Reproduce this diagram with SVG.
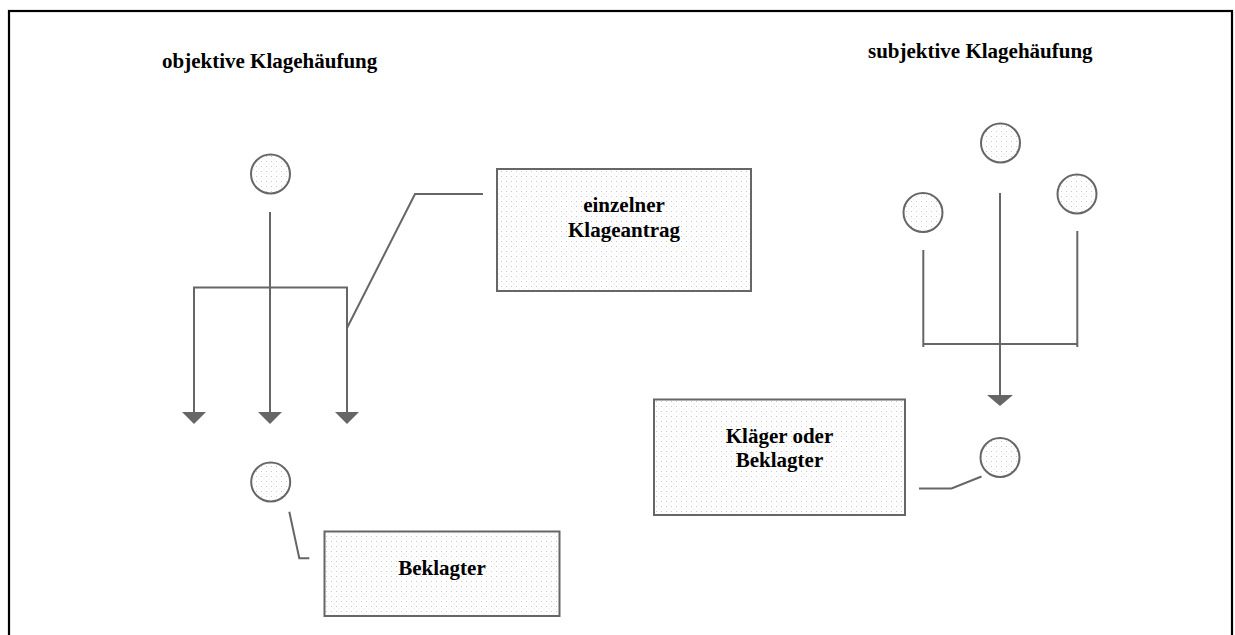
<svg xmlns="http://www.w3.org/2000/svg" width="1235" height="635" viewBox="0 0 1235 635">
<defs>
<pattern id="dots" width="5" height="5" patternUnits="userSpaceOnUse">
<rect width="5" height="5" fill="#ffffff"/>
<rect x="1" y="1" width="1" height="1" fill="#c8c8c8"/>
<rect x="3.5" y="3.5" width="1" height="1" fill="#e6e6e6"/>
</pattern>
<style>
.node{fill:url(#dots);stroke:#666666;stroke-width:2}
.ln{fill:none;stroke:#666666;stroke-width:2}
.ah{fill:#666666}
.t{font-family:"Liberation Serif","Times New Roman",serif;font-weight:bold;font-size:21px;fill:#000000}
.c{text-anchor:middle}
</style>
</defs>
<rect x="0" y="0" width="1235" height="635" fill="#ffffff"/>
<rect x="9" y="11" width="1223" height="640" fill="none" stroke="#000000" stroke-width="2.2"/>
<text class="t" x="162" y="68">objektive Klagehäufung</text>
<text class="t" x="868" y="58">subjektive Klagehäufung</text>
<g id="connectors">
<line class="ln" x1="270" y1="212" x2="270" y2="412"/>
<path class="ln" d="M194,412 L194,287.5 L347,287.5 L347,412"/>
<path class="ah" d="M182,412 L206,412 L194,424 Z"/>
<path class="ah" d="M258,412 L282,412 L270,424 Z"/>
<path class="ah" d="M335,412 L359,412 L347,424 Z"/>
<path class="ln" d="M347,328 L415,194 L483,194"/>
<line class="ln" x1="1000" y1="193" x2="1000" y2="395"/>
<path class="ah" d="M987,395 L1013,395 L1000,406 Z"/>
<line class="ln" x1="923.3" y1="250" x2="923.3" y2="347"/>
<line class="ln" x1="1077.3" y1="231" x2="1077.3" y2="347"/>
<line class="ln" x1="923.3" y1="344" x2="1077.3" y2="344"/>
<path class="ln" d="M919,488.5 L951.5,488.5 L981.5,476.5"/>
<path class="ln" d="M289.3,511.7 L299.3,558.3 L309.3,558.3"/>
</g>
<g id="obj-person-top"><circle class="node" cx="270.5" cy="174" r="19.5"/></g>
<g id="obj-person-bottom"><circle class="node" cx="270.7" cy="482" r="19.5"/></g>
<g id="box-klageantrag">
<rect class="node" x="497" y="169" width="254" height="122"/>
<text class="t c" x="624" y="212">einzelner</text>
<text class="t c" x="624" y="237">Klageantrag</text>
</g>
<g id="box-beklagter">
<rect class="node" x="324.5" y="531.5" width="235" height="84.5"/>
<text class="t c" x="442" y="575">Beklagter</text>
</g>
<g id="subj-person-top"><circle class="node" cx="1000.5" cy="143" r="19.5"/></g>
<g id="subj-person-left"><circle class="node" cx="923" cy="212.5" r="19.5"/></g>
<g id="subj-person-right"><circle class="node" cx="1077" cy="194" r="19.5"/></g>
<g id="subj-person-bottom"><circle class="node" cx="1000" cy="457.5" r="19.5"/></g>
<g id="box-klaeger">
<rect class="node" x="654" y="399.5" width="251" height="115.5"/>
<text class="t c" x="779.5" y="443">Kläger oder</text>
<text class="t c" x="779.5" y="467">Beklagter</text>
</g>
</svg>
